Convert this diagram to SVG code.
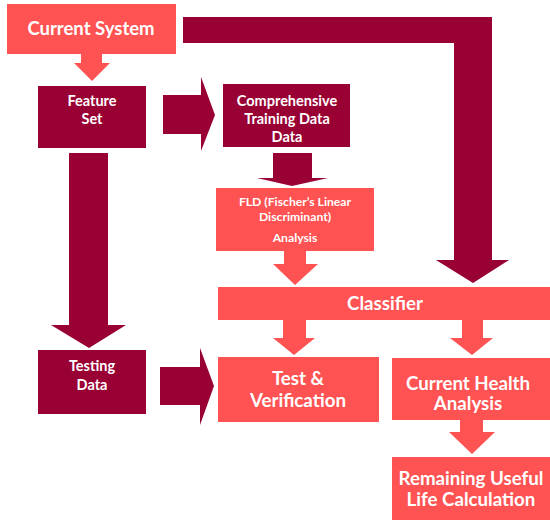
<svg xmlns="http://www.w3.org/2000/svg" width="550" height="520" viewBox="0 0 550 520">
<style>
.l{fill:#FF5252}
.d{fill:#990033}
text{font-family:Lato,"Open Sans","Liberation Sans",sans-serif;font-weight:bold;fill:#fff;text-anchor:middle}
.big{font-size:18.7px}
.sm{font-size:14.5px}
.xs{font-size:12.2px}
</style>
<rect width="550" height="520" fill="#fff"/>
<g id="connectors">
<polygon class="l" points="81,54 102,54 102,63 110,63 92,81 74,63 81,63"/>
<polygon class="d" points="163,95 201,95 201,77 215,115 201,151 201,134 163,134"/>
<polygon class="d" points="183,17 492,17 492,260 509,260 473,283 436,260 454,260 454,43 183,43"/>
<polygon class="d" points="69,153 108,153 108,325 126,325 89,348 51,325 69,325"/>
<polygon class="d" points="273,153 312,153 312,178 328,178 292,186 257,178 273,178"/>
<polygon class="l" points="284,251 306,251 306,264 318,264 295,285 273,264 284,264"/>
<polygon class="l" points="283,319 306,319 306,338 315,338 294,355 273,338 283,338"/>
<polygon class="l" points="462,319 483,319 483,338 493,338 472,355 450,338 462,338"/>
<polygon class="d" points="160,367 200,367 200,348 214,386 200,425 200,405 160,405"/>
<polygon class="l" points="460,420 483,420 483,432 495,432 472,454 449,432 460,432"/>
</g>
<g id="current-system"><rect class="l" x="7" y="4" width="169" height="50"/><text x="91" y="35" font-size="18.5">Current System</text></g>
<g id="feature-set"><rect class="d" x="38" y="86" width="108" height="62"/><text class="sm" x="92" y="106">Feature</text><text class="sm" x="92" y="124">Set</text></g>
<g id="training"><rect class="d" x="223" y="84" width="127" height="63"/><text class="sm" x="287" y="106">Comprehensive</text><text class="sm" x="287" y="124">Training Data</text><text class="sm" x="287" y="142">Data</text></g>
<g id="fld"><rect class="l" x="216" y="188" width="158" height="63"/><text class="xs" x="295" y="206">FLD (Fischer’s Linear</text><text class="xs" x="295" y="221">Discriminant)</text><text class="xs" x="295" y="242">Analysis</text></g>
<g id="classifier"><rect class="l" x="218" y="287" width="332" height="33"/><text class="big" x="385" y="310">Classifier</text></g>
<g id="testing-data"><rect class="d" x="38" y="350" width="108" height="64"/><text class="sm" x="92" y="371">Testing</text><text class="sm" x="92" y="390">Data</text></g>
<g id="test-verification"><rect class="l" x="218" y="357" width="161" height="65"/><text class="big" x="298" y="385">Test &amp;</text><text class="big" x="298" y="407">Verification</text></g>
<g id="current-health"><rect class="l" x="392" y="358" width="158" height="62"/><text class="big" x="468" y="390">Current Health</text><text class="big" x="468" y="410">Analysis</text></g>
<g id="rul"><rect class="l" x="392" y="457" width="158" height="63"/><text class="big" x="471" y="485">Remaining Useful</text><text class="big" x="471" y="506">Life Calculation</text></g>
</svg>
